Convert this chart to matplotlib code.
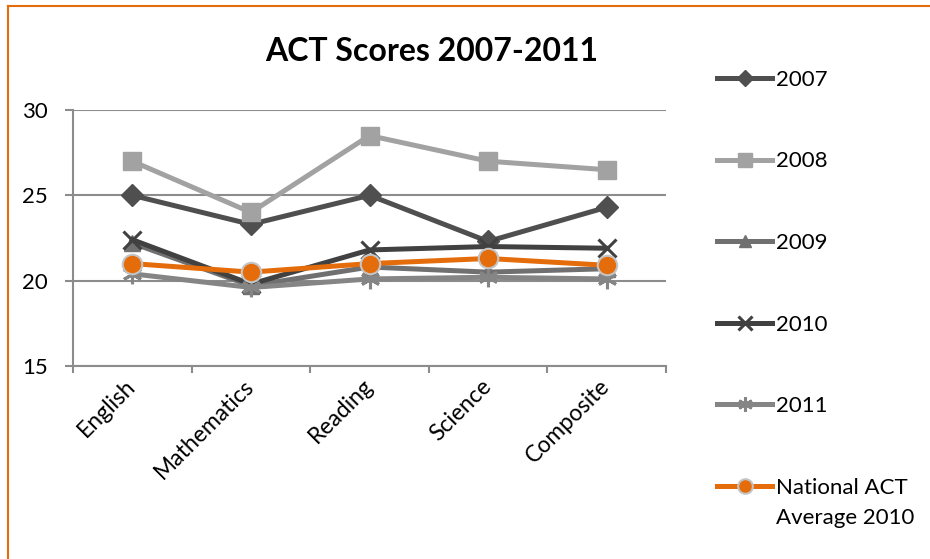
import numpy as np
import matplotlib
matplotlib.use("Agg")
import matplotlib.pyplot as plt
from matplotlib.lines import Line2D

plt.rcParams['font.family'] = ['Lato', 'DejaVu Sans']

## chart data
subjects = ["English", "Mathematics", "Reading", "Science", "Composite"]
y2007 = [25.0, 23.3, 25.0, 22.3, 24.3]
y2008 = [27.0, 24.0, 28.5, 27.0, 26.5]
y2009 = [22.2, 19.7, 20.8, 20.5, 20.7]
y2010 = [22.4, 19.8, 21.8, 22.0, 21.9]
y2011 = [20.4, 19.6, 20.1, 20.2, 20.1]
national = [21.0, 20.5, 21.0, 21.3, 20.9]
yticks = [15, 20, 25, 30]

W, H = 930, 559
fig = plt.figure(figsize=(W/100, H/100), dpi=100)
ax = fig.add_axes([73/W, 1-366/H, (666-73)/W, (366-110)/H])

x = np.arange(len(subjects))
lw = 3.6
series = [
    ("2007", y2007, "#4f4f4f", "D", 11, 1),
    ("2008", y2008, "#a2a2a2", "s", 13, 1),
    ("2009", y2009, "#707070", "^", 12, 1),
    ("2010", y2010, "#414141", "x", 13, 2.2),
    ("2011", y2011, "#858585", (6, 2, 0), 14, 2.2),
]
for name, vals, col, mk, ms, mew in series:
    ax.plot(x, vals, color=col, lw=lw, marker=mk, ms=ms, mfc=col, mec=col,
            mew=mew, label=name, solid_joinstyle='miter')
ax.plot(x, national, color="#e46c0a", lw=lw, marker="o", ms=14, mfc="#e46c0a",
        mec="#c4c4c4", mew=1.5, label="National ACT")

ax.set_xlim(-0.5, len(subjects)-0.5)
ax.set_ylim(15, 30)
ax.set_yticks(yticks)
ax.yaxis.grid(True, color="#8c8c8c", lw=1.5)
ax.set_axisbelow(True)
for s in ("top", "right"):
    ax.spines[s].set_visible(False)
for s in ("left", "bottom"):
    ax.spines[s].set_color("#8c8c8c")
    ax.spines[s].set_linewidth(1.5)

ax.set_xticks(x)
ax.set_xticklabels(subjects, rotation=45, ha="right", va="center",
                   rotation_mode="anchor")
ax.set_xticks(np.arange(-0.5, len(subjects)), minor=True)
ax.tick_params(axis="x", which="major", length=0, pad=12, labelsize=16.5)
ax.tick_params(axis="x", which="minor", length=5, width=1.5, color="#8c8c8c",
               direction="out")
ax.tick_params(axis="y", length=6, width=1.5, color="#8c8c8c", pad=12,
               labelsize=16)

fig.text(432/W, 1-52/H, "ACT Scores 2007-2011", ha="center", va="center",
         fontsize=23, fontweight="bold")

leg = fig.legend(loc="upper left", bbox_to_anchor=(708/W, 1-61/H),
                 frameon=False, fontsize=16, handlelength=2.5,
                 handletextpad=0.15, labelspacing=2.77, borderaxespad=0,
                 markerscale=0.75)
## second line of the last legend label
fig.canvas.draw()
last = leg.get_texts()[-1].get_window_extent()
fig.text(last.x0/W, (last.y0 - 10)/H, "Average 2010", ha="left", va="top",
         fontsize=16)

## orange border (top and left only)
fig.add_artist(Line2D([8/W, 8/W], [0, 1-5.5/H], color="#e46c0a", lw=1.5,
                      transform=fig.transFigure))
fig.add_artist(Line2D([8/W, 1], [1-5.5/H, 1-5.5/H], color="#e46c0a", lw=1.5,
                      transform=fig.transFigure))

fig.savefig("out.png", dpi=100)
